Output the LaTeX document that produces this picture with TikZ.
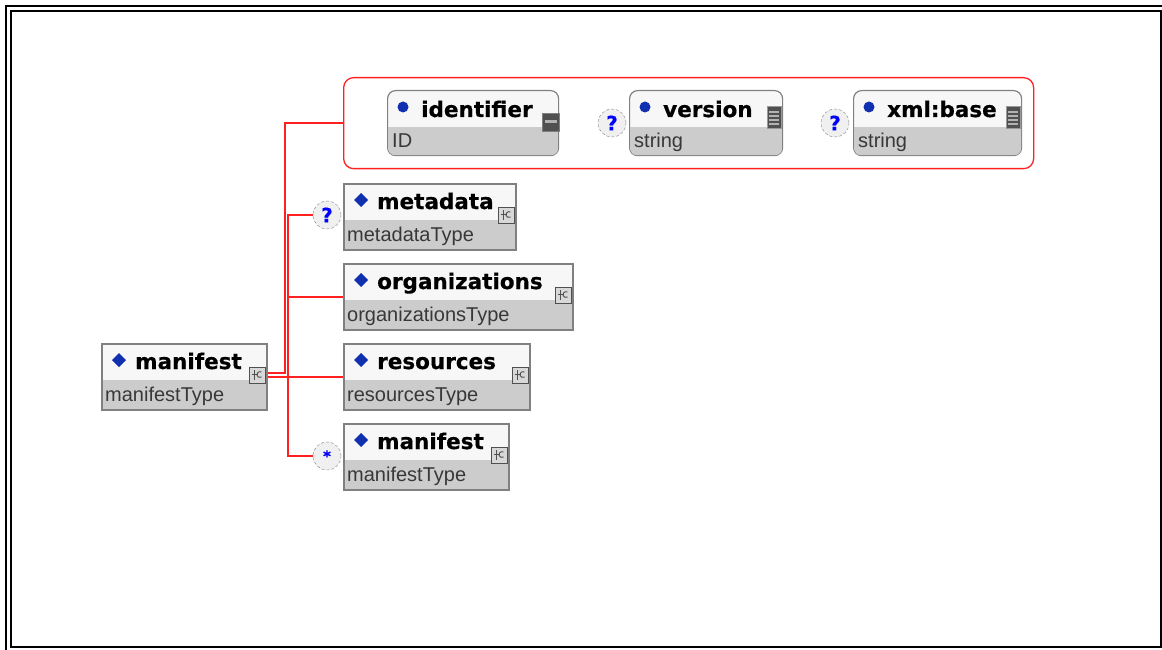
\documentclass[tikz,border=0pt]{standalone}
\usepackage{fontspec}
\newfontfamily\hdrfont[BoldFeatures={FakeBold=0.6}]{DejaVu Sans}
\newfontfamily\typfont{Liberation Sans}
\definecolor{xred}{HTML}{FF2020}
\definecolor{boxborder}{HTML}{808080}
\definecolor{headfill}{HTML}{F7F7F7}
\definecolor{bandfill}{HTML}{CCCCCC}
\definecolor{typetext}{HTML}{383838}
\definecolor{diablue}{HTML}{1030B0}
\definecolor{occfill}{HTML}{F0F0F0}
\definecolor{iconfill}{HTML}{D8D8D8}
\definecolor{icondark}{HTML}{505050}
\tikzset{
  ebox/.style={draw=boxborder, line width=1.5pt, fill=headfill, minimum height=66pt, inner sep=0pt, anchor=north west},
  abox/.style={draw=boxborder, line width=1.2pt, fill=headfill, minimum height=65pt, inner sep=0pt, anchor=north west, rounded corners=8pt},
  grpbox/.style={draw=xred, line width=1.3pt, rounded corners=10pt, inner sep=0pt, anchor=north west},
  redline/.style={draw=xred, line width=1.6pt},
  titletext/.style={anchor=base west, inner sep=0pt, font=\hdrfont\bfseries\fontsize{21.5}{21.5}\selectfont},
  typetextstyle/.style={anchor=base west, inner sep=0pt, text=typetext, font=\typfont\fontsize{20}{20}\selectfont},
  occ/.style={circle, draw=gray, densely dashed, fill=occfill, minimum size=28pt, inner sep=0pt, text=blue, font=\hdrfont\bfseries\fontsize{20}{20}\selectfont},
  ciconbox/.style={draw=icondark, fill=iconfill, line width=0.9pt, minimum width=16pt, minimum height=16pt, inner sep=0pt},
  frameline/.style={draw=black, line width=2pt},
}
% element box: name, x, y, width, title, type
\newcommand{\elembox}[6]{%
  \node[ebox, minimum width=#4pt] (#1) at (#2,#3) {};
  \fill[bandfill] ([shift={(2,37)}]#1.north west) rectangle ([shift={(-2,-2)}]#1.south east);
  \fill[diablue] ([shift={(18,10)}]#1.north west) -- ([shift={(25,17)}]#1.north west) -- ([shift={(18,24)}]#1.north west) -- ([shift={(11,17)}]#1.north west) -- cycle;
  \node[titletext] (#1-t) at ([shift={(34,26)}]#1.north west) {#5};
  \node[typetextstyle] (#1-y) at ([shift={(4,58)}]#1.north west) {#6};
  \node[ciconbox] (#1-ic) at ([shift={(-10,32)}]#1.north east) {};
  \draw[icondark, line width=0.9pt] ([shift={(-3,-5)}]#1-ic.center) -- ([shift={(-3,5)}]#1-ic.center);
  \draw[icondark, line width=0.9pt] ([shift={(-6,-1)}]#1-ic.center) -- ([shift={(0,-1)}]#1-ic.center);
  \draw[icondark, line width=0.9pt] ([shift={(4,-3)}]#1-ic.center) arc[start angle=60, end angle=300, radius=3pt];
}
% attribute box: name, x, y, width, title, type
\newcommand{\attrbox}[6]{%
  \node[abox, minimum width=#4pt] (#1) at (#2,#3) {};
  \begin{scope}
    \clip[rounded corners=7pt] ([shift={(1,1)}]#1.north west) rectangle ([shift={(-1,-1)}]#1.south east);
    \fill[bandfill] ([shift={(0,37)}]#1.north west) rectangle (#1.south east);
  \end{scope}
  \fill[diablue] ([shift={(16,17)}]#1.north west) circle[radius=5.5pt];
  \node[titletext] (#1-t) at ([shift={(34,27)}]#1.north west) {#5};
  \node[typetextstyle] (#1-y) at ([shift={(5,57)}]#1.north west) {#6};
}
\begin{document}
\begin{tikzpicture}[x=1pt, y=-1pt]
\useasboundingbox (0,0) rectangle (1162,650);
\fill[white] (0,0) rectangle (1162,650);
% frame
\draw[frameline] (6,650) -- (6,6) -- (1162,6);
\draw[frameline] (11,11) rectangle (1160.5,647);

% attribute group
\node[grpbox, minimum width=690pt, minimum height=91pt] (attgrp) at (343,77) {};

% element boxes
\elembox{root}{101}{343}{165}{manifest}{manifestType}
\elembox{meta}{343}{183}{172}{metadata}{metadataType}
\elembox{orgs}{343}{263}{229}{organizations}{organizationsType}
\elembox{res}{343}{343}{186}{resources}{resourcesType}
\elembox{man}{343}{423}{165}{manifest}{manifestType}

% attribute boxes
\attrbox{ident}{387}{90}{171}{identifier}{ID}
\attrbox{vers}{629}{90}{153}{version}{string}
\attrbox{xbase}{853}{90}{168}{xml:base}{string}

% attribute icons
\node[fill=icondark, draw=gray, line width=0.6pt, minimum width=17pt, minimum height=18pt, inner sep=0pt] (ident-ic) at ([shift={(-8,32)}]ident.north east) {};
\fill[gray!60] ([shift={(-6,-1.5)}]ident-ic.center) rectangle ([shift={(6,1.5)}]ident-ic.center);
\foreach \n in {vers, xbase}{
  \node[fill=icondark, draw=gray!80, line width=1pt, minimum width=14pt, minimum height=22pt, inner sep=0pt] (\n-ic) at ([shift={(-9,28)}]\n.north east) {};
  \foreach \dy in {-6,-2,2,6}{
    \draw[gray!60, line width=1.2pt] ([shift={(-5,\dy)}]\n-ic.center) -- ([shift={(5,\dy)}]\n-ic.center);
  }
}

% occurrence circles
\node[occ] (versocc) at (612,123) {?};
\node[occ] (xbaseocc) at (835,123) {?};
\node[occ] (metaocc) at (327,215) {?};
\node[occ, font=\hdrfont\bfseries\fontsize{15}{15}\selectfont] (manocc) at (327,456) {*};

% connectors
\coordinate (gbus) at (285,200);
\coordinate (cbus) at (288,376);
\draw[redline] ([yshift=4pt]root.east) -| (gbus) |- (attgrp.west);
\draw[redline] (root.east) -- (res.west);
\draw[redline] (metaocc.west) -| (cbus) |- (manocc.west);
\draw[redline] (cbus |- orgs.west) -- (orgs.west);
\end{tikzpicture}
\end{document}
